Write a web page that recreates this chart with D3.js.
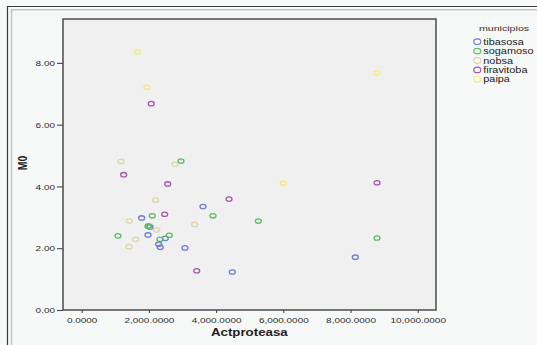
<!DOCTYPE html>
<html><head><meta charset="utf-8">
<script src="https://cdn.jsdelivr.net/npm/d3@7"></script>
<style>
html,body{margin:0;padding:0;background:#f7f8f8;}
svg{display:block;}
text{font-family:"Liberation Sans",Arial,sans-serif;}
</style></head>
<body>
<script>
// ---- data ----
const municipios = ["tibasosa","sogamoso","nobsa","firavitoba","paipa"];
const colors = ["#6f7fd0","#5cbf60","#dcd7ac","#a45aa8","#f3ec7a"];
const tibasosa_x = [3610,1786,2033,1973,2488,2292,2339,3074,4482,8143];
const tibasosa_y = [3.35,2.98,2.69,2.43,2.32,2.13,2.03,2.01,1.23,1.71];
const sogamoso_x = [2955,3908,5256,2101,1973,1990,1080,2607,2330,8789];
const sogamoso_y = [4.82,3.05,2.88,3.05,2.71,2.72,2.40,2.42,2.29,2.33];
const nobsa_x = [1170,2777,2202,1417,2232,3363,1607,1408];
const nobsa_y = [4.81,4.72,3.56,2.88,2.59,2.77,2.29,2.05];
const firavitoba_x = [2071,1250,2560,4384,2470,3423,8789];
const firavitoba_y = [6.68,4.38,4.08,3.59,3.10,1.27,4.12];
const paipa_x = [1667,1943,6000,8789];
const paipa_y = [8.36,7.21,4.11,7.68];
const xTicks = [0,2000,4000,6000,8000,10000];
const yTicks = [0,2,4,6,8];

const series = [
  {name:"tibasosa", xs:tibasosa_x, ys:tibasosa_y},
  {name:"sogamoso", xs:sogamoso_x, ys:sogamoso_y},
  {name:"nobsa", xs:nobsa_x, ys:nobsa_y},
  {name:"firavitoba", xs:firavitoba_x, ys:firavitoba_y},
  {name:"paipa", xs:paipa_x, ys:paipa_y}
];

const W=537,H=345, SX=1.33;
const svg=d3.select("body").append("svg").attr("width",W).attr("height",H);
svg.append("rect").attr("width",W).attr("height",H).attr("fill","#f7f8f8");
// outer frame
svg.append("path").attr("d","M7.5,345V6.5H537").attr("fill","none").attr("stroke","#3a3a3a").attr("stroke-width",1.2);
svg.append("path").attr("d","M11.5,345V9.8H537").attr("fill","none").attr("stroke","#c4c6c6").attr("stroke-width",1.5);

const L=63,T=19,R=436,B=310;
const x=d3.scaleLinear().domain([-556,10544]).range([L,R]);
const y=d3.scaleLinear().domain([0,9.42]).range([B,T]);

svg.append("rect").attr("x",L).attr("y",T).attr("width",R-L).attr("height",B-T)
  .attr("fill","#f0f0f0").attr("stroke","#555").attr("stroke-width",1.6);

// axes
const gx=svg.append("g").attr("transform",`translate(0,${B})`)
  .call(d3.axisBottom(x).tickValues(xTicks).tickFormat(d3.format(",.4f")).tickSize(3));
const gy=svg.append("g").attr("transform",`translate(${L},0)`)
  .call(d3.axisLeft(y).tickValues(yTicks).tickFormat(d3.format(".2f")).tickSize(6));
[gx,gy].forEach(g=>{
  g.select(".domain").remove();
  g.selectAll(".tick line").attr("stroke","#444").attr("stroke-width",1.1);
  g.selectAll(".tick text").attr("fill","#2a2a2a").style("font-size","7.5px");
});
gx.selectAll(".tick text").attr("y",12.7).attr("dy",0).attr("transform",`scale(${SX},1)`);
gy.selectAll(".tick text").attr("x",-8/SX).attr("dy","0.35em").attr("transform",`scale(${SX},1)`);

// axis titles
svg.append("text").attr("transform",`translate(249.3,335.5) scale(${SX},1)`)
  .attr("text-anchor","middle").style("font-size","10px").style("font-weight","bold").attr("fill","#222").text("Actproteasa");
svg.append("text").attr("transform",`translate(27,163) rotate(-90) scale(1,1.2)`)
  .attr("text-anchor","middle").style("font-size","10.5px").style("font-weight","bold").attr("fill","#222").text("M0");

// points
series.forEach((s,i)=>{
  svg.append("g").selectAll("ellipse").data(s.xs.map((v,j)=>[v,s.ys[j]])).join("ellipse")
    .attr("cx",d=>x(d[0])).attr("cy",d=>y(d[1])).attr("rx",3).attr("ry",2.2)
    .attr("fill","none").attr("stroke",colors[i]).attr("stroke-width",1.3);
});

// legend
svg.append("text").attr("transform",`translate(504,30.5) scale(${SX},1)`).attr("text-anchor","middle")
  .style("font-size","8px").attr("fill","#333").text("municipios");
municipios.forEach((m,i)=>{
  const cy=41.7+i*9.4;
  svg.append("ellipse").attr("cx",477.3).attr("cy",cy).attr("rx",3.5).attr("ry",2.8)
    .attr("fill","none").attr("stroke",colors[i]).attr("stroke-width",1.2);
  svg.append("text").attr("transform",`translate(483.3,${cy+3}) scale(${SX},1)`)
    .style("font-size","8.2px").attr("fill","#222").text(m);
});
</script>
</body></html>
